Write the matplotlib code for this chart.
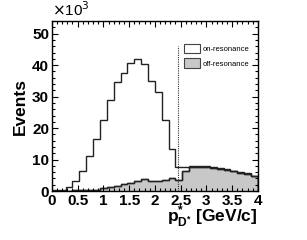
import numpy as np
import matplotlib
matplotlib.use('Agg')
import matplotlib.pyplot as plt
import matplotlib.patches as mpatches
from matplotlib.ticker import MultipleLocator, FormatStrFormatter

plt.rcParams['font.family'] = ['Liberation Sans', 'DejaVu Sans']
plt.rcParams['mathtext.fontset'] = 'custom'
plt.rcParams['mathtext.rm'] = 'Liberation Sans:bold'
plt.rcParams['mathtext.bf'] = 'Liberation Sans:bold'
plt.rcParams['mathtext.it'] = 'Liberation Sans:bold'

# ── Data: 30 bins from 0 to 4 GeV/c, counts in units of 10^3 ──────────────
bin_edges = np.linspace(0, 4, 31)
on_resonance = [0.2, 0.3, 1.2, 3.2, 6.3, 11.0, 16.5, 22.6, 28.8, 34.5,
                37.6, 40.8, 42.0, 40.3, 35.1, 31.4, 22.5, 13.5, 7.7, 7.6,
                7.8, 8.0, 7.9, 7.5, 7.2, 7.0, 6.5, 5.9, 5.7, 4.9]
off_resonance = [0.0, 0.0, 0.1, 0.2, 0.3, 0.3, 0.4, 0.85, 1.2, 1.6,
                 2.2, 2.7, 3.3, 3.7, 3.3, 3.2, 3.4, 4.0, 3.6, 6.3,
                 7.5, 7.7, 7.6, 7.3, 7.0, 6.8, 6.3, 5.6, 5.5, 4.7]
cut_value = 2.45
cut_height = 46

fig = plt.figure(figsize=(3.07, 2.40), dpi=100)
ax = fig.add_axes([0.169, 0.204, 0.671, 0.708])

ax.stairs(off_resonance, bin_edges, fill=True, facecolor='#c8c8c8',
          edgecolor='#222222', lw=1.0)
ax.stairs(off_resonance, bin_edges, color='#222222', lw=1.0)
ax.stairs(on_resonance, bin_edges, color='#222222', lw=1.0)
ax.vlines(cut_value, 0, cut_height, colors='#333333', linestyles=(0, (1, 1)), lw=0.8)

ax.set_xlim(0, 4)
ax.set_ylim(0, 54)
ax.xaxis.set_major_locator(MultipleLocator(0.5))
ax.xaxis.set_minor_locator(MultipleLocator(0.1))
ax.xaxis.set_major_formatter(FormatStrFormatter('%g'))
ax.yaxis.set_major_locator(MultipleLocator(10))
ax.yaxis.set_minor_locator(MultipleLocator(2))
ax.tick_params(which='both', direction='in', top=True, right=True, width=0.8)
ax.tick_params(which='major', length=4, labelsize=11, pad=2)
ax.tick_params(which='minor', length=2)
for lab in ax.get_xticklabels() + ax.get_yticklabels():
    lab.set_fontweight('bold')
for s in ax.spines.values():
    s.set_linewidth(1.0)

ax.set_ylabel('Events', fontsize=12.5, fontweight='bold', labelpad=3)
ax.text(0.0, 1.01, r'$\times$10$^{3}$', transform=ax.transAxes,
        fontsize=11, ha='left', va='bottom', fontweight='normal',
        math_fontfamily='dejavusans')
fig.text(0.840, 0.04, r'$\mathbf{p}^{*}_{\mathbf{D}^{*}}$ [GeV/c]',
         fontsize=12.5, fontweight='bold', ha='right', va='bottom')

ax.legend(handles=[
    mpatches.Patch(facecolor='white', edgecolor='#444444', lw=0.8, label='on-resonance'),
    mpatches.Patch(facecolor='#c8c8c8', edgecolor='#444444', lw=0.8, label='off-resonance'),
], loc='upper left', bbox_to_anchor=(0.641, 0.865), frameon=False,
    fontsize=5.5, handlelength=2.1, handleheight=1.45, handletextpad=0.3,
    labelspacing=0.7, borderpad=0, borderaxespad=0)

plt.savefig('out.png', dpi=100)
